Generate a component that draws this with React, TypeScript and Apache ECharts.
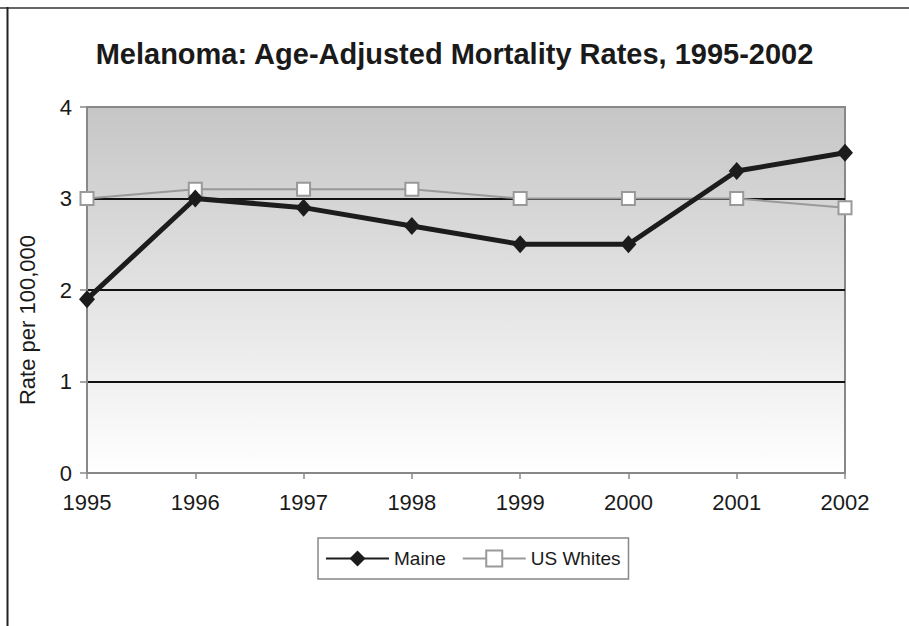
import React, { useEffect, useRef } from "react";
import * as echarts from "echarts";

const years = ["1995", "1996", "1997", "1998", "1999", "2000", "2001", "2002"];
const maine = [1.9, 3.0, 2.9, 2.7, 2.5, 2.5, 3.3, 3.5];
const usWhites = [3.0, 3.1, 3.1, 3.1, 3.0, 3.0, 3.0, 2.9];
const titleText = "Melanoma: Age-Adjusted Mortality Rates, 1995-2002";
const yName = "Rate per 100,000";

const FONT = "'Liberation Sans', Arial, Helvetica, sans-serif";

export default function App() {
  const ref = useRef<HTMLDivElement>(null);
  useEffect(() => {
    if (!ref.current) return;
    const chart = echarts.init(ref.current, undefined, { renderer: "svg" });
    chart.setOption({
      animation: false,
      backgroundColor: "#ffffff",
      textStyle: { fontFamily: FONT, color: "#1a1a1a" },
      title: {
        text: titleText,
        left: "center",
        top: 34,
        textStyle: { fontFamily: FONT, fontSize: 29, fontWeight: "bold", color: "#1a1a1a" },
      },
      grid: {
        left: 87,
        right: 64,
        top: 107,
        bottom: 153,
        show: true,
        borderColor: "#888",
        borderWidth: 2,
        backgroundColor: new echarts.graphic.LinearGradient(0, 0, 0, 1, [
          { offset: 0, color: "#c6c6c6" },
          { offset: 1, color: "#ffffff" },
        ]),
      },
      legend: {
        data: ["Maine", "US Whites"],
        left: 318,
        top: 538,
        orient: "horizontal",
        itemWidth: 63,
        itemHeight: 20,
        itemGap: 16,
        padding: [11, 8, 11, 7],
        borderColor: "#888",
        borderWidth: 1.5,
        textStyle: { fontFamily: FONT, fontSize: 19, color: "#1a1a1a" },
      },
      xAxis: {
        type: "category",
        data: years,
        boundaryGap: false,
        axisLine: { show: true, lineStyle: { color: "#888", width: 2 } },
        axisTick: { show: true, length: 6, lineStyle: { color: "#888", width: 1.5 } },
        axisLabel: { fontFamily: FONT, fontSize: 22, color: "#1a1a1a", margin: 18 },
        splitLine: { show: false },
      },
      yAxis: {
        type: "value",
        min: 0,
        max: 4,
        interval: 1,
        axisLine: { show: true, lineStyle: { color: "#888", width: 2 } },
        axisTick: { show: true, length: 7, lineStyle: { color: "#888", width: 1.5 } },
        axisLabel: { fontFamily: FONT, fontSize: 22, color: "#1a1a1a", margin: 15 },
        splitLine: {
          show: true,
          lineStyle: { color: ["#888", "#111", "#111", "#111", "#888"], width: 2 },
        },
      },
      graphic: [
        {
          type: "line",
          shape: { x1: 0, y1: 8, x2: 909, y2: 8 },
          style: { stroke: "#666", lineWidth: 2 },
        },
        {
          type: "line",
          shape: { x1: 7.5, y1: 7, x2: 7.5, y2: 626 },
          style: { stroke: "#222", lineWidth: 2 },
        },
        {
          type: "text",
          x: 27,
          y: 320,
          rotation: Math.PI / 2,
          style: {
            text: yName,
            fontFamily: FONT,
            fontSize: 22,
            fill: "#1a1a1a",
            textAlign: "center",
            textVerticalAlign: "middle",
          },
        },
      ],
      series: [
        {
          name: "US Whites",
          type: "line",
          data: usWhites,
          z: 2,
          symbol: "rect",
          symbolSize: 13,
          lineStyle: { color: "#999", width: 2 },
          itemStyle: { color: "#ffffff", borderColor: "#999", borderWidth: 2 },
        },
        {
          name: "Maine",
          type: "line",
          data: maine,
          z: 3,
          symbol: "diamond",
          symbolSize: [16, 18],
          lineStyle: { color: "#1c1c1c", width: 5 },
          itemStyle: { color: "#1c1c1c" },
        },
      ],
    });
    return () => chart.dispose();
  }, []);
  return (
    <div
      ref={ref}
      style={{ position: "absolute", left: 0, top: 0, width: 909, height: 626 }}
    />
  );
}
